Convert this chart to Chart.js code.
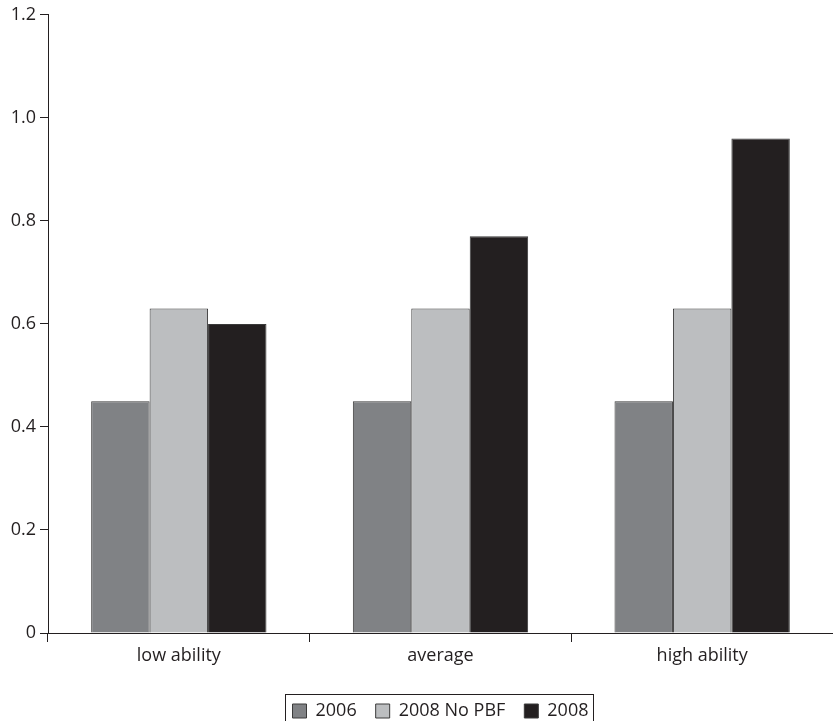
<!DOCTYPE html>
<html>
<head>
<meta charset="utf-8">
<script src="https://cdn.jsdelivr.net/npm/chart.js@4"></script>
<style>
  html, body { margin: 0; padding: 0; background: #fff; }
  #wrap { width: 833px; height: 721px; }
</style>
</head>
<body>
<div id="wrap"><canvas id="Chart" width="833" height="721"></canvas></div>
<script>
// data
const categories = ["low ability", "average", "high ability"];
const values2006 = [0.45, 0.45, 0.45];
const values2008NoPBF = [0.63, 0.63, 0.63];
const values2008 = [0.60, 0.77, 0.96];
const yTicks = [0, 0.2, 0.4, 0.6, 0.8, 1.0, 1.2];

const FONT = "Open Sans";
const AXIS = "#231f20";

// draws the frame around the legend items
const legendFrame = {
  id: "legendFrame",
  afterDraw(chart) {
    const boxes = chart.legend.legendHitBoxes;
    if (!boxes || !boxes.length) return;
    const first = boxes[0];
    const last = boxes[boxes.length - 1];
    const ctx = chart.ctx;
    ctx.save();
    ctx.strokeStyle = AXIS;
    ctx.lineWidth = 1;
    const x1 = Math.round(first.left) - 7.5;
    const x2 = Math.round(last.left + last.width) + 5.5;
    const y1 = Math.round(first.top + first.height / 2) - 16.5;
    const y2 = y1 + 40;
    ctx.strokeRect(x1, y1, x2 - x1, y2 - y1);
    ctx.restore();
  }
};

const barStyle = { borderColor: "#3a3a3a", borderWidth: 1, barPercentage: 1.0, categoryPercentage: 0.67 };

new Chart(document.getElementById("Chart"), {
  type: "bar",
  data: {
    labels: categories,
    datasets: [
      Object.assign({ label: "2006", data: values2006, backgroundColor: "#808285" }, barStyle),
      Object.assign({ label: "2008 No PBF", data: values2008NoPBF, backgroundColor: "#bcbec0" }, barStyle),
      Object.assign({ label: "2008", data: values2008, backgroundColor: "#231f20" }, barStyle),
    ],
  },
  options: {
    responsive: false,
    animation: false,
    layout: { padding: { top: 6, right: 0, left: 0, bottom: -9 } },
    scales: {
      x: {
        grid: { offset: true, drawOnChartArea: false, tickLength: 9, color: AXIS, lineWidth: 1 },
        border: { display: true, color: AXIS, width: 1 },
        ticks: { color: AXIS, font: { family: FONT, size: 18 }, padding: 3 },
        afterFit(axis) { axis.height = 50; },
      },
      y: {
        min: 0,
        max: 1.2,
        afterBuildTicks(axis) { axis.ticks = yTicks.map((v) => ({ value: v })); },
        grid: { drawOnChartArea: false, tickLength: 8, color: AXIS, lineWidth: 1 },
        border: { display: true, color: AXIS, width: 1 },
        ticks: {
          color: AXIS,
          font: { family: FONT, size: 18 },
          padding: 4,
          callback: (v) => (v === 0 ? "0" : v.toFixed(1)),
        },
        afterFit(axis) { axis.width = 48; },
      },
    },
    plugins: {
      legend: {
        position: "bottom",
        fullSize: false,
        labels: {
          color: AXIS,
          font: { family: FONT, size: 18 },
          boxWidth: 14,
          boxHeight: 14,
          padding: 19,
        },
      },
      tooltip: { enabled: false },
    },
  },
  plugins: [legendFrame],
});
</script>
</body>
</html>
